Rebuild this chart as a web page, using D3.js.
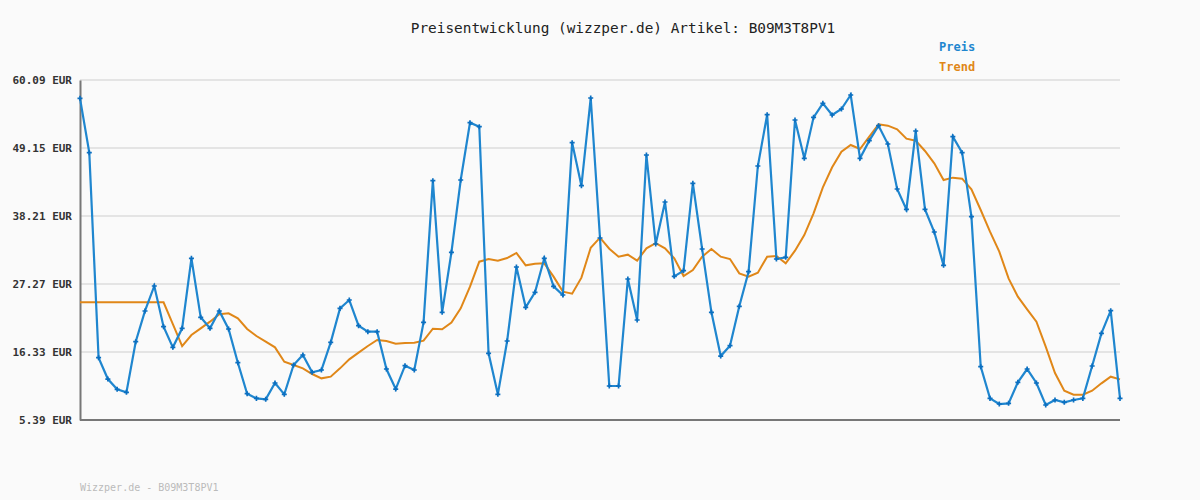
<!DOCTYPE html>
<html><head><meta charset="utf-8">
<script src="https://cdn.jsdelivr.net/npm/d3@7"></script>
<style>body{margin:0;background:#fafafa}svg{display:block}text{font-family:"DejaVu Sans Mono",monospace}</style>
</head><body><svg id="c" width="1200" height="500"></svg>
<script>
// price series (EUR)
var preis = [57.14,48.40,15.42,11.98,10.32,9.84,17.99,22.93,26.95,20.40,17.08,20.14,31.40,21.91,20.14,22.93,20.03,14.61,9.62,8.87,
  8.71,11.34,9.52,14.24,15.85,13.06,13.43,17.88,23.35,24.69,20.56,19.60,19.60,13.59,10.37,14.13,13.43,21.10,
  43.89,22.71,32.36,44.00,53.23,52.58,16.11,9.52,18.10,30.00,23.52,25.93,31.40,26.89,25.50,50.01,43.09,57.19,34.67,10.86,10.86,28.07,
  21.48,48.02,33.70,40.46,28.50,29.41,43.46,32.90,22.71,15.68,17.35,23.68,29.25,46.25,54.51,31.29,
  31.56,53.65,47.49,54.08,56.34,54.46,55.42,57.68,47.49,50.33,52.74,49.79,42.55,39.28,51.88,39.28,35.63,30.27,50.97,48.40,
  38.10,13.97,8.87,7.96,8.07,11.45,13.59,11.34,7.80,8.61,8.23,8.61,8.87,14.08,19.33,22.98,8.87];
var trend = [24.32,24.32,24.32,24.32,24.32,24.32,24.32,24.32,24.32,24.32,
  20.83,17.29,19.06,20.14,21.21,22.39,22.55,21.74,20.03,18.90,17.99,17.08,14.77,14.24,13.70,12.79,12.09,12.36,13.70,15.15,
  16.22,17.29,18.26,18.10,17.67,17.78,17.83,18.15,
  20.08,19.98,21.05,23.35,26.84,30.86,31.29,31.02,31.45,32.26,30.27,30.54,30.59,28.45,26.04,25.72,28.29,33.11,34.72,32.95,
  31.67,31.99,31.02,33.01,33.86,33.01,31.40,28.56,29.52,31.67,32.90,31.67,31.29,28.98,28.45,29.09,31.67,31.77,
  30.59,32.63,35.15,38.64,42.82,46.04,48.56,49.63,48.99,50.97,52.96,52.74,52.15,50.65,50.33,48.67,46.68,44.00,44.38,44.22,
  42.50,39.17,35.69,32.47,28.18,25.23,23.19,21.21,17.19,12.95,10.11,9.47,9.47,10.11,11.29,12.36,11.93];
var yTicks = [5.39,16.33,27.27,38.21,49.15,60.09];
var artikel = "B09M3T8PV1";

var svg = d3.select("#c");
var x = d3.scaleLinear().domain([0, preis.length-1]).range([80,1120]);
var y = d3.scaleLinear().domain([5.39,60.09]).range([420,80]);

// grid
svg.selectAll("line.g").data(yTicks.slice(1)).enter().append("line")
  .attr("x1",80).attr("x2",1120).attr("y1",d=>y(d)).attr("y2",d=>y(d))
  .attr("stroke","#e4e4e4").attr("stroke-width",2);

var ax = svg.append("g").attr("transform","translate(80,0)")
  .call(d3.axisLeft(y).tickValues(yTicks).tickSize(0).tickPadding(8).tickFormat(d=>d3.format(".2f")(d)+" EUR"));
ax.select(".domain").attr("stroke","#777").attr("stroke-width",2);
ax.selectAll("text").attr("font-size",11).attr("font-weight","bold").attr("fill","#333")
  .attr("font-family","DejaVu Sans Mono");
svg.append("line").attr("x1",80).attr("x2",1120).attr("y1",420).attr("y2",420)
  .attr("stroke","#777").attr("stroke-width",2);

var line = d3.line().x((d,i)=>x(i)).y(d=>y(d));
svg.append("path").datum(trend).attr("d",line).attr("fill","none")
  .attr("stroke","#e08718").attr("stroke-width",2);
svg.append("path").datum(preis).attr("d",line).attr("fill","none")
  .attr("stroke","#1f86cf").attr("stroke-width",2.2);
svg.selectAll("path.m").data(preis).enter().append("path")
  .attr("d",d3.symbol(d3.symbolCross,14))
  .attr("transform",(d,i)=>"translate("+x(i)+","+y(d)+")").attr("fill","#0b6fc0");

svg.append("text").attr("x",623).attr("y",33).attr("text-anchor","middle")
  .attr("font-size",14.4).attr("fill","#222").text("Preisentwicklung (wizzper.de) Artikel: "+artikel);
svg.append("text").attr("x",939).attr("y",51).attr("font-size",12).attr("font-weight","bold")
  .attr("fill","#1f86cf").text("Preis");
svg.append("text").attr("x",939).attr("y",71).attr("font-size",12).attr("font-weight","bold")
  .attr("fill","#e08718").text("Trend");
svg.append("text").attr("x",80).attr("y",491).attr("font-size",10).attr("fill","#bbb")
  .text("Wizzper.de - "+artikel);
</script></body></html>
